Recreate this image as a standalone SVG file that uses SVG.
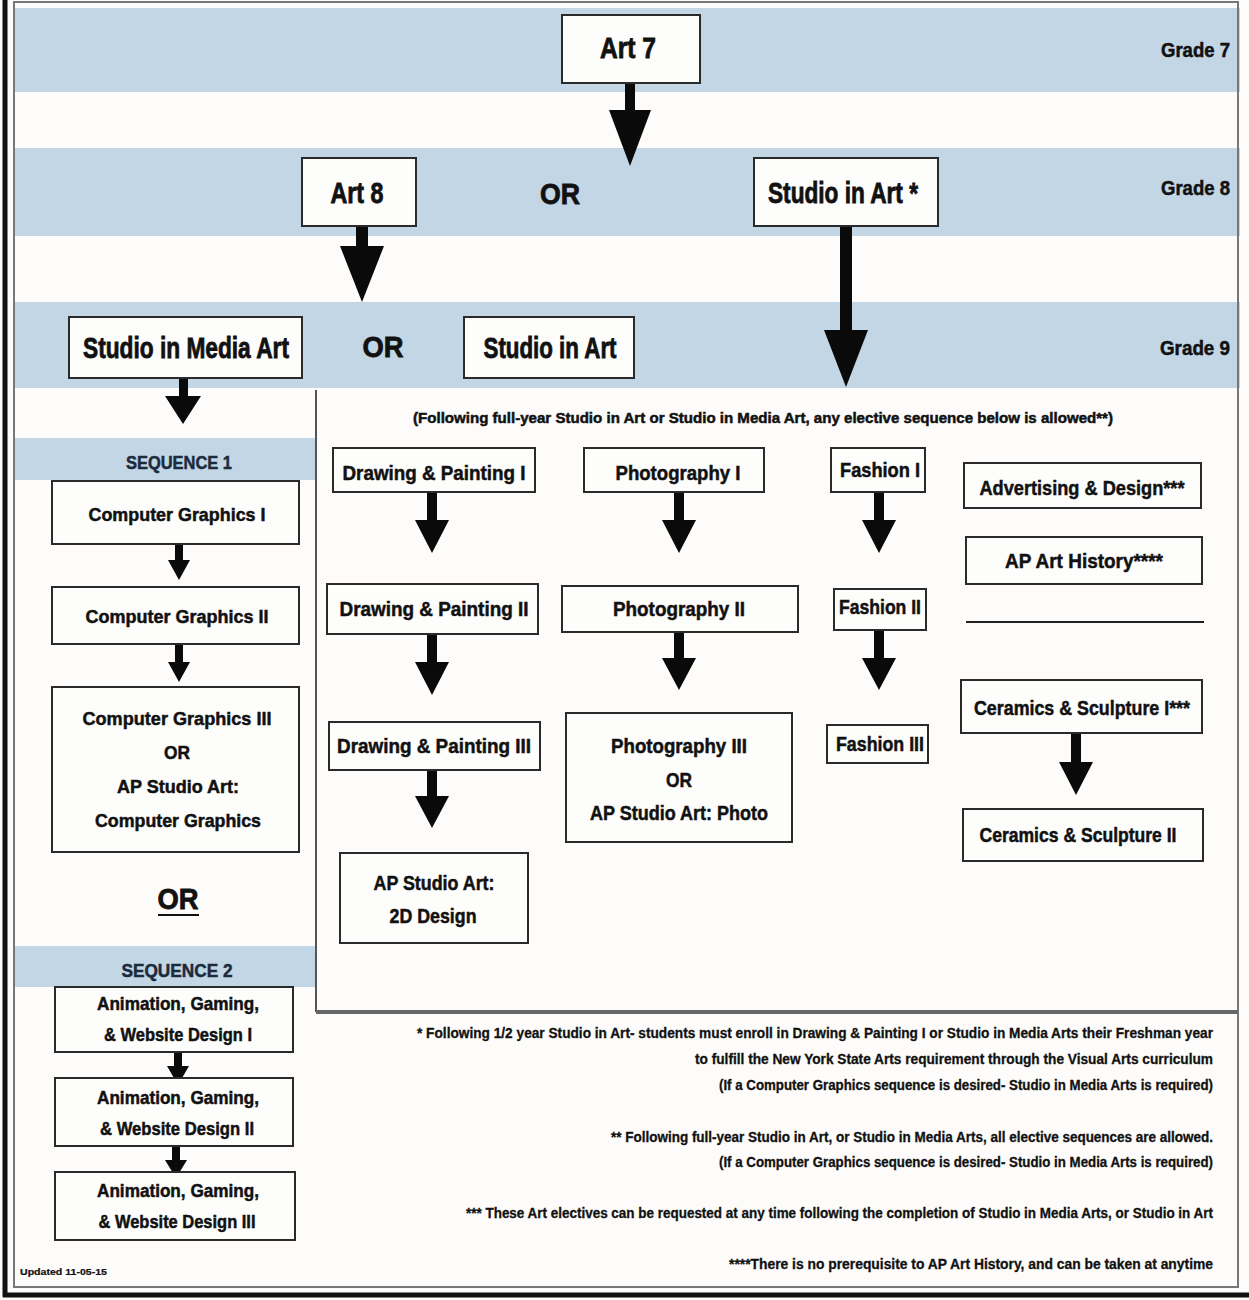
<svg xmlns="http://www.w3.org/2000/svg" width="1249" height="1300" viewBox="0 0 1249 1300">
<style>
text{font-family:"Liberation Sans Narrow","Liberation Sans",Arial,sans-serif;font-weight:bold;fill:#111;stroke:#111;stroke-width:0.5;text-anchor:middle;}
.box{fill:#fdfdfb;stroke:#2a2a2a;stroke-width:2;}
.band{fill:#c2d6e5;}
.big{font-size:29px;stroke-width:0.8;}
.grade{font-size:20px;text-anchor:end;}
.el{font-size:21px;}
.seq{font-size:19px;}
.seqh{font-size:19px;fill:#1c2b3c;stroke:#1c2b3c;}
.note{font-size:14px;text-anchor:end;stroke-width:0.3;}
.arrow{fill:#0a0a0a;}
.frame{fill:none;stroke:#777;stroke-width:2;}
</style>
<rect x="0" y="0" width="1249" height="1300" fill="#fdfcfa"/>
<!-- bands -->
<rect class="band" x="14" y="8" width="1226" height="84"/>
<rect class="band" x="14" y="148" width="1226" height="88"/>
<rect class="band" x="14" y="302" width="1226" height="86"/>
<rect class="band" x="14" y="438" width="302" height="42"/>
<rect class="band" x="14" y="946" width="302" height="41"/>
<!-- frames -->
<rect class="frame" x="14" y="2" width="1224" height="1285"/>
<line x1="316" y1="390" x2="316" y2="1012" stroke="#555" stroke-width="2"/>
<line x1="316" y1="1012" x2="1238" y2="1012" stroke="#666" stroke-width="4"/>
<line x1="5" y1="0" x2="5" y2="1297" stroke="#111" stroke-width="5"/>
<line x1="3" y1="1295" x2="1249" y2="1295" stroke="#111" stroke-width="5"/>

<g id="grade-labels">
<text class="grade" x="1230" y="57" textLength="69" lengthAdjust="spacingAndGlyphs">Grade 7</text>
<text class="grade" x="1230" y="195" textLength="69" lengthAdjust="spacingAndGlyphs">Grade 8</text>
<text class="grade" x="1230" y="355" textLength="70" lengthAdjust="spacingAndGlyphs">Grade 9</text>
</g>

<g id="connectors">
<path class="arrow" d="M625,83 H635 V110 H651 L630,166 L609,110 H625 Z"/>
<path class="arrow" d="M356,226 H368 V246 H384 L362,302 L340,246 H356 Z"/>
<path class="arrow" d="M840,226 H852 V330 H868 L846,387 L824,330 H840 Z"/>
<path class="arrow" d="M179,378 H188 V396 H201 L183,424 L165,396 H179 Z"/>
<path class="arrow" d="M175,544 H183 V560 H190 L179,580 L168,560 H175 Z"/>
<path class="arrow" d="M175,644 H183 V662 H190 L179,682 L168,662 H175 Z"/>
<path class="arrow" d="M174,1052 H182 V1066 H189 L178,1085 L167,1066 H174 Z"/>
<path class="arrow" d="M172,1146 H180 V1160 H187 L176,1178 L165,1160 H172 Z"/>
<path class="arrow" d="M427,492 H437 V520 H449 L432,553 L415,520 H427 Z"/>
<path class="arrow" d="M674,492 H684 V520 H696 L679,553 L662,520 H674 Z"/>
<path class="arrow" d="M874,492 H884 V520 H896 L879,553 L862,520 H874 Z"/>
<path class="arrow" d="M427,634 H437 V662 H449 L432,695 L415,662 H427 Z"/>
<path class="arrow" d="M674,632 H684 V658 H696 L679,690 L662,658 H674 Z"/>
<path class="arrow" d="M874,630 H884 V658 H896 L879,690 L862,658 H874 Z"/>
<path class="arrow" d="M427,770 H437 V796 H449 L432,828 L415,796 H427 Z"/>
<path class="arrow" d="M1071,733 H1081 V762 H1093 L1076,795 L1059,762 H1071 Z"/>
</g>

<g id="art7"><rect class="box" x="562" y="15" width="138" height="68"/><text class="big" x="628" y="58" textLength="56" lengthAdjust="spacingAndGlyphs">Art 7</text></g>
<g id="art8"><rect class="box" x="302" y="158" width="114" height="68"/><text class="big" x="357" y="203" textLength="53" lengthAdjust="spacingAndGlyphs">Art 8</text></g>
<g id="or8"><text class="big" x="560" y="204" textLength="40" lengthAdjust="spacingAndGlyphs">OR</text></g>
<g id="studio8"><rect class="box" x="754" y="158" width="184" height="68"/><text class="big" x="843" y="203" textLength="150" lengthAdjust="spacingAndGlyphs">Studio in Art *</text></g>
<g id="studiomedia"><rect class="box" x="69" y="317" width="233" height="61"/><text class="big" x="186" y="358" textLength="206" lengthAdjust="spacingAndGlyphs">Studio in Media Art</text></g>
<g id="or9"><text class="big" x="383" y="357" textLength="41" lengthAdjust="spacingAndGlyphs">OR</text></g>
<g id="studio9"><rect class="box" x="464" y="317" width="170" height="61"/><text class="big" x="550" y="358" textLength="133" lengthAdjust="spacingAndGlyphs">Studio in Art</text></g>

<g id="header"><text x="763" y="423" style="font-size:15px" textLength="700" lengthAdjust="spacingAndGlyphs">(Following full-year Studio in Art or Studio in Media Art, any elective sequence below is allowed**)</text></g>

<g id="seq1"><text class="seqh" x="179" y="469" textLength="106" lengthAdjust="spacingAndGlyphs">SEQUENCE 1</text></g>
<g id="cg1"><rect class="box" x="52" y="481" width="247" height="63"/><text class="seq" x="177" y="521" textLength="177" lengthAdjust="spacingAndGlyphs">Computer Graphics I</text></g>
<g id="cg2"><rect class="box" x="52" y="587" width="247" height="57"/><text class="seq" x="177" y="623" textLength="183" lengthAdjust="spacingAndGlyphs">Computer Graphics II</text></g>
<g id="cg3"><rect class="box" x="52" y="687" width="247" height="165"/>
<text class="seq" x="177" y="725" textLength="189" lengthAdjust="spacingAndGlyphs">Computer Graphics III</text>
<text class="seq" x="177" y="759" textLength="26" lengthAdjust="spacingAndGlyphs">OR</text>
<text class="seq" x="178" y="793" textLength="122" lengthAdjust="spacingAndGlyphs">AP Studio Art:</text>
<text class="seq" x="178" y="827" textLength="166" lengthAdjust="spacingAndGlyphs">Computer Graphics</text></g>
<g id="or-seq"><text class="big" x="178" y="909" textLength="41" lengthAdjust="spacingAndGlyphs">OR</text><line x1="158" y1="915" x2="199" y2="915" stroke="#111" stroke-width="2"/></g>
<g id="seq2"><text class="seqh" x="177" y="977" textLength="111" lengthAdjust="spacingAndGlyphs">SEQUENCE 2</text></g>
<g id="anim1"><rect class="box" x="55" y="987" width="238" height="65"/>
<text class="seq" x="178" y="1010" textLength="162" lengthAdjust="spacingAndGlyphs">Animation, Gaming,</text>
<text class="seq" x="178" y="1041" textLength="148" lengthAdjust="spacingAndGlyphs">&amp; Website Design I</text></g>
<g id="anim2"><rect class="box" x="55" y="1078" width="238" height="68"/>
<text class="seq" x="178" y="1104" textLength="162" lengthAdjust="spacingAndGlyphs">Animation, Gaming,</text>
<text class="seq" x="177" y="1135" textLength="154" lengthAdjust="spacingAndGlyphs">&amp; Website Design II</text></g>
<g id="anim3"><rect class="box" x="55" y="1172" width="240" height="68"/>
<text class="seq" x="178" y="1197" textLength="162" lengthAdjust="spacingAndGlyphs">Animation, Gaming,</text>
<text class="seq" x="177" y="1228" textLength="157" lengthAdjust="spacingAndGlyphs">&amp; Website Design III</text></g>
<g id="updated"><text x="20" y="1275" style="font-size:9px;text-anchor:start;stroke-width:0.2" textLength="87" lengthAdjust="spacingAndGlyphs">Updated 11-05-15</text></g>

<g id="dp1"><rect class="box" x="333" y="448" width="202" height="44"/><text class="el" x="434" y="480" textLength="183" lengthAdjust="spacingAndGlyphs">Drawing &amp; Painting I</text></g>
<g id="ph1"><rect class="box" x="584" y="448" width="180" height="44"/><text class="el" x="678" y="480" textLength="125" lengthAdjust="spacingAndGlyphs">Photography I</text></g>
<g id="fa1"><rect class="box" x="831" y="448" width="94" height="44"/><text class="el" x="880" y="477" textLength="80" lengthAdjust="spacingAndGlyphs">Fashion I</text></g>
<g id="adv"><rect class="box" x="964" y="463" width="237" height="45"/><text class="el" x="1082" y="495" textLength="205" lengthAdjust="spacingAndGlyphs">Advertising &amp; Design***</text></g>
<g id="aph"><rect class="box" x="966" y="537" width="236" height="47"/><text class="el" x="1084" y="568" textLength="158" lengthAdjust="spacingAndGlyphs">AP Art History****</text></g>
<line x1="966" y1="622" x2="1204" y2="622" stroke="#222" stroke-width="2"/>
<g id="dp2"><rect class="box" x="327" y="584" width="211" height="50"/><text class="el" x="434" y="616" textLength="189" lengthAdjust="spacingAndGlyphs">Drawing &amp; Painting II</text></g>
<g id="ph2"><rect class="box" x="562" y="586" width="236" height="46"/><text class="el" x="679" y="616" textLength="132" lengthAdjust="spacingAndGlyphs">Photography II</text></g>
<g id="fa2"><rect class="box" x="834" y="589" width="92" height="41"/><text class="el" x="880" y="614" textLength="82" lengthAdjust="spacingAndGlyphs">Fashion II</text></g>
<g id="cer1"><rect class="box" x="961" y="680" width="241" height="53"/><text class="el" x="1082" y="715" textLength="216" lengthAdjust="spacingAndGlyphs">Ceramics &amp; Sculpture I***</text></g>
<g id="cer2"><rect class="box" x="963" y="809" width="240" height="52"/><text class="el" x="1078" y="842" textLength="197" lengthAdjust="spacingAndGlyphs">Ceramics &amp; Sculpture II</text></g>
<g id="dp3"><rect class="box" x="329" y="722" width="211" height="48"/><text class="el" x="434" y="753" textLength="194" lengthAdjust="spacingAndGlyphs">Drawing &amp; Painting III</text></g>
<g id="ph3"><rect class="box" x="566" y="713" width="226" height="129"/>
<text class="el" x="679" y="753" textLength="136" lengthAdjust="spacingAndGlyphs">Photography III</text>
<text class="el" x="679" y="787" textLength="26" lengthAdjust="spacingAndGlyphs">OR</text>
<text class="el" x="679" y="820" textLength="178" lengthAdjust="spacingAndGlyphs">AP Studio Art: Photo</text></g>
<g id="fa3"><rect class="box" x="827" y="725" width="101" height="38"/><text class="el" x="880" y="751" textLength="88" lengthAdjust="spacingAndGlyphs">Fashion III</text></g>
<g id="ap2d"><rect class="box" x="340" y="853" width="188" height="90"/>
<text class="el" x="434" y="890" textLength="121" lengthAdjust="spacingAndGlyphs">AP Studio Art:</text>
<text class="el" x="433" y="923" textLength="87" lengthAdjust="spacingAndGlyphs">2D Design</text></g>

<g id="notes">
<text class="note" x="1213" y="1038" textLength="796" lengthAdjust="spacingAndGlyphs">* Following 1/2 year Studio in Art- students must enroll in Drawing &amp; Painting I or Studio in Media Arts their Freshman year</text>
<text class="note" x="1213" y="1064" textLength="518" lengthAdjust="spacingAndGlyphs">to fulfill the New York State Arts requirement through the Visual Arts curriculum</text>
<text class="note" x="1213" y="1090" textLength="494" lengthAdjust="spacingAndGlyphs">(If a Computer Graphics sequence is desired- Studio in Media Arts is required)</text>
<text class="note" x="1213" y="1142" textLength="602" lengthAdjust="spacingAndGlyphs">** Following full-year Studio in Art, or Studio in Media Arts, all elective sequences are allowed.</text>
<text class="note" x="1213" y="1167" textLength="494" lengthAdjust="spacingAndGlyphs">(If a Computer Graphics sequence is desired- Studio in Media Arts is required)</text>
<text class="note" x="1213" y="1218" textLength="747" lengthAdjust="spacingAndGlyphs">*** These Art electives can be requested at any time following the completion of Studio in Media Arts, or Studio in Art</text>
<text class="note" x="1213" y="1269" textLength="484" lengthAdjust="spacingAndGlyphs">****There is no prerequisite to AP Art History, and can be taken at anytime</text>
</g>
</svg>
